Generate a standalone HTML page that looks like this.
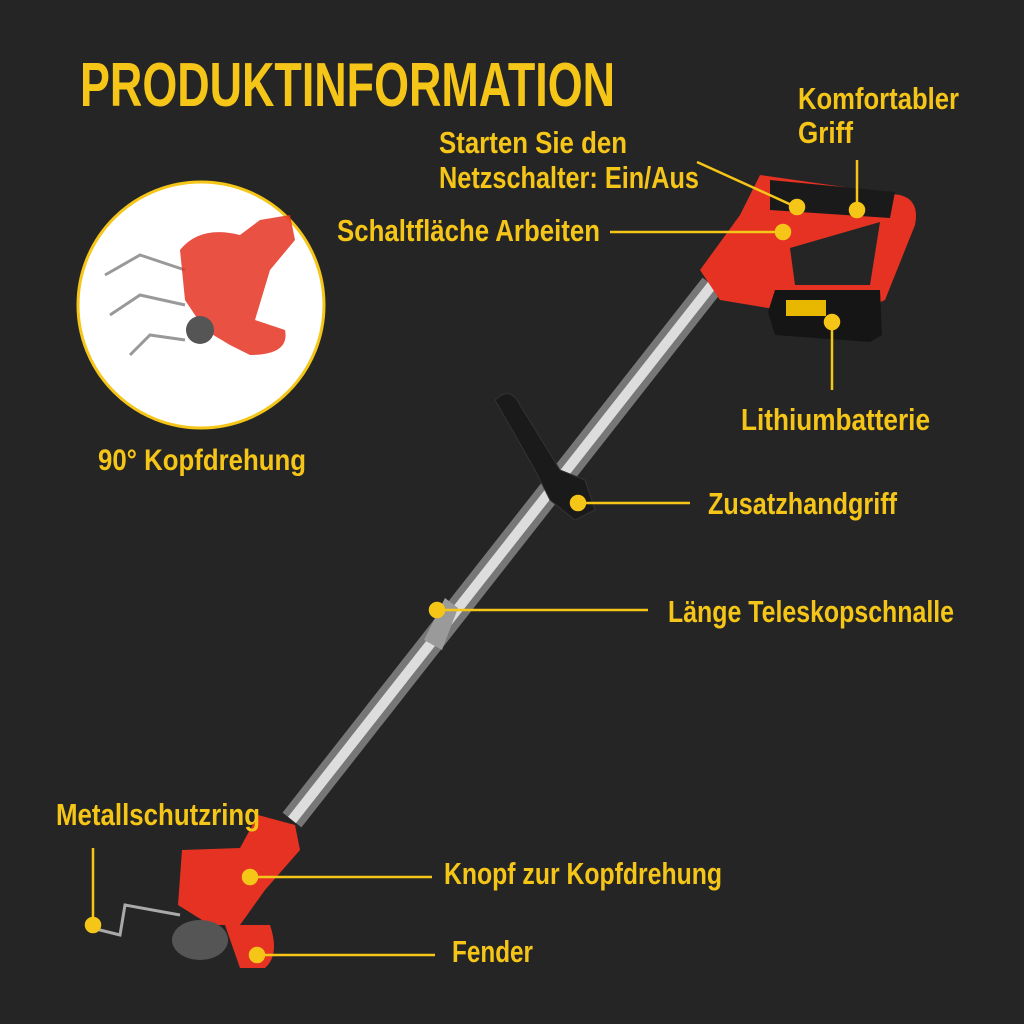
<!DOCTYPE html>
<html><head><meta charset="utf-8"><style>
html,body{margin:0;padding:0;background:#252525;}
svg{display:block}
text{font-family:"Liberation Sans Narrow","Liberation Sans",sans-serif;fill:#F5C518;}
</style></head><body>
<svg width="1024" height="1024" viewBox="0 0 1024 1024" xmlns="http://www.w3.org/2000/svg">
<rect width="1024" height="1024" fill="#252525"/>
<text x="80" y="106" font-size="62" font-weight="bold" textLength="535" lengthAdjust="spacingAndGlyphs">PRODUKTINFORMATION</text>
<!-- circle -->
<circle cx="201" cy="305" r="123" fill="#fff" stroke="#F5C518" stroke-width="3"/>
<g stroke="#999" stroke-width="3" fill="none">
<path d="M105 275 L140 255 L185 270"/><path d="M110 315 L140 295 L185 305"/><path d="M130 355 L150 335 L185 340"/>
</g>
<path d="M180 250 Q200 225 240 235 L260 220 L290 215 L295 240 L270 270 L255 320 L285 330 Q290 355 250 355 L230 345 L205 330 L185 300 Z" fill="#e53222" opacity="0.85"/>
<circle cx="200" cy="330" r="14" fill="#555"/>
<text x="98" y="470" font-size="30" font-weight="bold" textLength="208" lengthAdjust="spacingAndGlyphs">90° Kopfdrehung</text>
<!-- pole -->
<line x1="712" y1="285" x2="292" y2="820" stroke="#777" stroke-width="24"/>
<line x1="712" y1="285" x2="292" y2="820" stroke="#ddd" stroke-width="10"/>
<path d="M445 598 L458 608 L442 650 L424 640 Z" fill="#9a9a9a"/>
<!-- aux handle -->
<path d="M495 400 Q510 385 520 405 L560 470 L585 480 L595 510 L575 520 L550 500 L535 470 Z" fill="#1a1a1a" stroke="#333"/>
<!-- handle -->
<path d="M760 175 L900 195 Q920 200 915 225 L885 300 L840 320 L720 300 L700 270 L740 215 Z" fill="#e53222"/>
<path d="M790 248 L880 222 L870 285 L795 285 Z" fill="#252525"/>
<path d="M770 180 L895 192 L890 218 L770 210 Z" fill="#1a1a1a"/>
<path d="M775 290 L880 290 L882 335 L870 342 L775 335 L768 312 Z" fill="#151515"/>
<rect x="786" y="300" width="40" height="16" fill="#e8b800"/>
<!-- head -->
<path d="M258 815 L295 825 L300 850 L265 890 L240 925 L210 925 L178 905 L182 850 L240 848 Z" fill="#e53222"/>
<ellipse cx="200" cy="940" rx="28" ry="20" fill="#555"/>
<path d="M225 925 L270 925 Q280 955 265 968 L240 968 Z" fill="#e53222"/>
<path d="M92 928 L120 935 L125 905 L180 915" stroke="#aaa" stroke-width="3" fill="none"/>
<!-- leader lines -->
<g stroke="#F5C518" stroke-width="2.5" fill="#F5C518">
<line x1="697" y1="162" x2="796" y2="207"/><circle cx="797" cy="207" r="7"/>
<line x1="610" y1="232" x2="782" y2="232"/><circle cx="783" cy="232" r="7"/>
<line x1="857" y1="160" x2="857" y2="210"/><circle cx="857" cy="210" r="7"/>
<line x1="832" y1="322" x2="832" y2="390"/><circle cx="832" cy="322" r="7"/>
<line x1="578" y1="503" x2="690" y2="503"/><circle cx="578" cy="503" r="7"/>
<line x1="437" y1="610" x2="648" y2="610"/><circle cx="437" cy="610" r="7"/>
<line x1="250" y1="877" x2="432" y2="877"/><circle cx="250" cy="877" r="7"/>
<line x1="257" y1="955" x2="435" y2="955"/><circle cx="257" cy="955" r="7"/>
<polyline points="93,848 93,925" fill="none"/><circle cx="93" cy="925" r="7"/>
</g>
<g font-size="31" font-weight="bold" lengthAdjust="spacingAndGlyphs">
<text x="439" y="153" textLength="188" lengthAdjust="spacingAndGlyphs">Starten Sie den</text>
<text x="439" y="188" textLength="260" lengthAdjust="spacingAndGlyphs">Netzschalter: Ein/Aus</text>
<text x="337" y="241" textLength="263" lengthAdjust="spacingAndGlyphs">Schaltfläche Arbeiten</text>
<text x="798" y="109" textLength="161" lengthAdjust="spacingAndGlyphs">Komfortabler</text>
<text x="798" y="143" textLength="55" lengthAdjust="spacingAndGlyphs">Griff</text>
<text x="741" y="430" textLength="189" lengthAdjust="spacingAndGlyphs">Lithiumbatterie</text>
<text x="708" y="514" textLength="189" lengthAdjust="spacingAndGlyphs">Zusatzhandgriff</text>
<text x="668" y="622" textLength="286" lengthAdjust="spacingAndGlyphs">Länge Teleskopschnalle</text>
<text x="56" y="825" textLength="204" lengthAdjust="spacingAndGlyphs">Metallschutzring</text>
<text x="444" y="884" textLength="278" lengthAdjust="spacingAndGlyphs">Knopf zur Kopfdrehung</text>
<text x="452" y="962" textLength="81" lengthAdjust="spacingAndGlyphs">Fender</text>
</g>
</svg>
</body></html>
